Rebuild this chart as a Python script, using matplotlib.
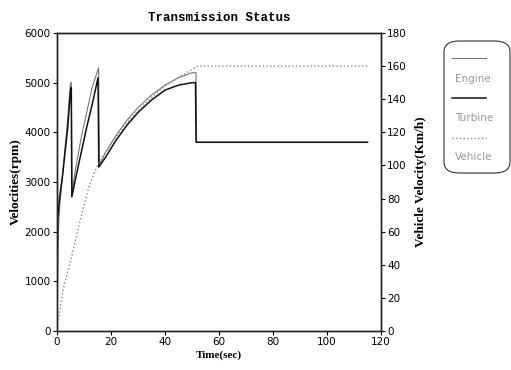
import matplotlib
matplotlib.use('Agg')
import matplotlib.pyplot as plt
from matplotlib.patches import FancyBboxPatch
from matplotlib.lines import Line2D

# engine / turbine speed (rpm) vs time (sec)
engine_t = [0, 0.3, 1, 2, 3, 4, 5, 5.3, 5.6, 7, 9, 11, 13, 15.4, 15.7, 18, 22, 26, 30, 35, 40, 45, 50, 51.5, 51.7, 80, 100, 115]
engine_v = [0, 1800, 2500, 3100, 3700, 4300, 5000, 5000, 2800, 3300, 3900, 4400, 4900, 5300, 3350, 3600, 3950, 4250, 4500, 4750, 4950, 5100, 5200, 5200, 3800, 3800, 3800, 3800]
turbine_t = [0, 0.3, 1, 2, 3, 4, 5, 5.3, 5.5, 7, 9, 11, 13, 15.2, 15.5, 18, 22, 26, 30, 35, 40, 45, 50, 51.3, 51.5, 80, 100, 115]
turbine_v = [0, 2300, 2700, 3100, 3600, 4100, 4850, 4900, 2700, 3100, 3600, 4100, 4550, 5100, 3300, 3500, 3850, 4150, 4400, 4650, 4850, 4950, 5000, 5000, 3800, 3800, 3800, 3800]
# vehicle speed (km/h)
vehicle_t = [0, 1, 2, 3, 5, 7, 10, 12, 15, 20, 25, 30, 35, 40, 45, 50, 52, 60, 80, 100, 115]
vehicle_v = [0, 12, 22, 30, 42, 56, 76, 88, 100, 113, 124, 133, 141, 148, 153, 158, 160, 160, 160, 160, 160]

names = ['Engine', 'Turbine', 'Vehicle']
colors = ['#777777', '#111111', '#888888']
styles = ['-', '-', ':']
widths = [0.8, 1.1, 1.0]

fig = plt.figure(figsize=(5.11, 3.70), dpi=100)
ax = fig.add_axes([0.1115, 0.1054, 0.6341, 0.8054])
ax2 = ax.twinx()

ax.plot(engine_t, engine_v, color=colors[0], ls=styles[0], lw=widths[0])
ax.plot(turbine_t, turbine_v, color=colors[1], ls=styles[1], lw=widths[1])
ax2.plot(vehicle_t, vehicle_v, color=colors[2], ls=styles[2], lw=widths[2])

ax.set_xlim(0, 120)
ax.set_ylim(0, 6000)
ax2.set_ylim(0, 180)
ax.set_xticks(range(0, 121, 20))
ax.set_yticks(range(0, 6001, 1000))
ax2.set_yticks(range(0, 181, 20))

for a in (ax, ax2):
    a.tick_params(labelsize=7.5, length=3, width=0.8, pad=1.5)
    for s in a.spines.values():
        s.set_linewidth(1.0)
        s.set_color('#222222')

ax.set_title('Transmission Status', family='Liberation Mono', fontweight='bold', fontsize=9, pad=9)
ax.set_xlabel('Time(sec)', family='Liberation Serif', fontweight='bold', fontsize=8, labelpad=2)
ax.set_ylabel('Velocities(rpm)', family='Liberation Serif', fontweight='bold', fontsize=9.5, labelpad=2)
ax2.set_ylabel('Vehicle Velocity(Km/h)', family='Liberation Serif', fontweight='bold', fontsize=9.5, labelpad=6)

# legend box drawn by hand: handle above label
W, H = 511, 370
box = FancyBboxPatch((444 / W, 1 - 173 / H), 66 / W, 132 / H,
                     boxstyle='round,pad=0,rounding_size=0.03',
                     transform=fig.transFigure, fc='white', ec='#333333', lw=0.8)
fig.patches.append(box)
for i, name in enumerate(names):
    yl = 1 - (58 + 40 * i) / H
    yt = 1 - (79 + 39 * i) / H
    fig.lines.append(Line2D([452 / W, 486 / W], [yl, yl], transform=fig.transFigure,
                            color=colors[i], ls=styles[i], lw=widths[i]))
    fig.text(455 / W, yt, name, fontsize=7.5, color='#999999', va='center', ha='left')

fig.savefig('out.png', dpi=100)
